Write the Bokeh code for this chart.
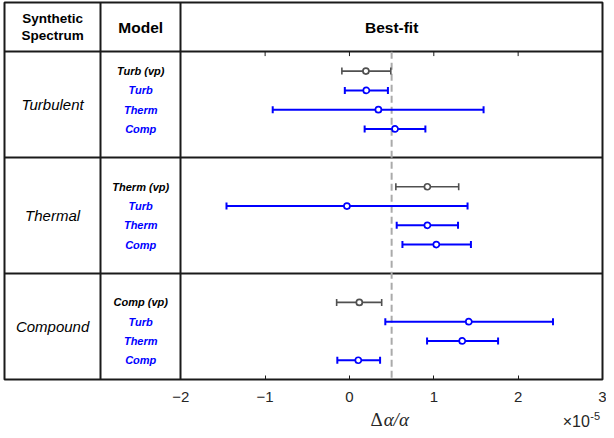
import math
from bokeh.plotting import figure
from bokeh.layouts import column
from bokeh.models import Range1d, FixedTicker
from bokeh.core.properties import value
from bokeh.embed import file_html
from bokeh.resources import INLINE

# ---- data (values in units of 1e-5) ----
spectra = ["Turbulent", "Thermal", "Compound"]
models_turb = ["Turb (vp)", "Turb", "Therm", "Comp"]
models_therm = ["Therm (vp)", "Turb", "Therm", "Comp"]
models_comp = ["Comp (vp)", "Turb", "Therm", "Comp"]
best_turb = [0.195, 0.20, 0.343, 0.54]
low_turb = [-0.09, -0.055, -0.91, 0.18]
up_turb = [0.49, 0.456, 1.59, 0.90]
best_therm = [0.924, -0.03, 0.924, 1.03]
low_therm = [0.55, -1.458, 0.56, 0.628]
up_therm = [1.295, 1.40, 1.287, 1.44]
best_comp = [0.117, 1.415, 1.337, 0.105]
low_comp = [-0.152, 0.425, 0.92, -0.144]
up_comp = [0.382, 2.413, 1.762, 0.363]
ref_value = 0.5
xticks = [-2, -1, 0, 1, 2, 3]

models = [models_turb, models_therm, models_comp]
bests = [best_turb, best_therm, best_comp]
lows = [low_turb, low_therm, low_comp]
ups = [up_turb, up_therm, up_comp]

FONT = "Liberation Sans"
GRAY = "#505050"
BLUE = "#0000ff"
LINE = "#1a1a1a"
TXT = "#262626"

X0, XSEP = -4.09, -2.95
xr = Range1d(X0, xticks[-1])
p = figure(width=606, height=405, output_backend="svg", toolbar_location=None,
           x_range=xr, y_range=Range1d(17, -2.56),
           min_border_left=4, min_border_top=2, min_border_right=4, min_border_bottom=26)
p.grid.visible = False
p.yaxis.visible = False
p.outline_line_color = LINE
p.outline_line_width = 2
p.background_fill_color = "white"
p.border_fill_color = "white"

ax = p.xaxis[0]
ax.ticker = FixedTicker(ticks=xticks)
ax.axis_line_color = None
ax.major_tick_in = 4
ax.major_tick_out = 0
ax.minor_tick_line_color = None
ax.major_tick_line_color = LINE
ax.major_label_text_font = FONT
ax.major_label_text_font_size = "15px"
ax.major_label_text_color = TXT
ax.major_label_standoff = 12

# table lines
p.hspan(y=[0, 5.5, 11.5], line_color=LINE, line_width=2)
p.vspan(x=[XSEP, xticks[0]], line_color=LINE, line_width=2)
# inner top ticks under header
inner = xticks[1:-1]
p.segment(x0=inner, y0=[0] * len(inner), x1=inner, y1=[0.22] * len(inner), line_color=LINE, line_width=1)

# reference dashed line
p.segment(x0=[ref_value], y0=[0], x1=[ref_value], y1=[17], line_color="#aaaaaa", line_width=2, line_dash="7 4")

# header
p.text(x=[(X0 + XSEP) / 2] * 2, y=[-1.73, -0.85], text=["Synthetic", "Spectrum"],
       text_font=value(FONT), text_font_style="bold", text_font_size="13.5px",
       text_align="center", text_baseline="middle", text_color="black")
p.text(x=[(XSEP + xticks[0]) / 2, (xticks[0] + xticks[-1]) / 2], y=[-1.26, -1.26], text=["Model", "Best-fit"],
       text_font=value(FONT), text_font_style="bold", text_font_size="15.5px",
       text_align="center", text_baseline="middle", text_color="black")

bounds = [0, 5.5, 11.5, 17]
for g in range(3):
    ys = [g * 6 + i + 1 for i in range(4)]
    p.text(x=[(X0 + XSEP) / 2], y=[(bounds[g] + bounds[g + 1]) / 2], text=[spectra[g]],
           text_font=value(FONT), text_font_style="italic", text_font_size="15px",
           text_align="center", text_baseline="middle", text_color="black")
    for i in range(4):
        col = GRAY if i == 0 else BLUE
        lw = 1.6 if i == 0 else 2
        y = ys[i]
        p.text(x=[(XSEP + xticks[0]) / 2], y=[y], text=[models[g][i]],
               text_font=value(FONT), text_font_style="bold italic", text_font_size="11px",
               text_align="center", text_baseline="middle", text_color="black" if i == 0 else BLUE)
        p.segment(x0=[lows[g][i]], y0=[y], x1=[ups[g][i]], y1=[y], line_color=col, line_width=lw)
        p.scatter(x=[lows[g][i], ups[g][i]], y=[y, y], marker="dash", angle=math.pi / 2, size=7,
                  line_color=col, line_width=lw)
        p.scatter(x=[bests[g][i]], y=[y], marker="circle", size=6, line_color=col, line_width=1.7,
                  fill_color="white")

# axis label strip
p2 = figure(width=606, height=25, output_backend="svg", toolbar_location=None,
            x_range=xr, y_range=Range1d(0, 25),
            min_border_left=4, min_border_top=0, min_border_right=4, min_border_bottom=0)
p2.axis.visible = False
p2.grid.visible = False
p2.outline_line_color = None
p2.text(x=[ref_value], y=[11], text=["Δ"], text_font=value("Liberation Serif"),
        text_font_size="19px", text_align="right", text_baseline="middle", text_color=TXT, x_offset=-9)
p2.text(x=[ref_value], y=[11], text=["α/α"], text_font=value("Liberation Serif"), text_font_style="italic",
        text_font_size="19px", text_align="left", text_baseline="middle", text_color=TXT, x_offset=-8)
p2.text(x=[2.85], y=[9], text=["×10"], text_font=value(FONT), text_font_size="16px",
        text_align="right", text_baseline="middle", text_color=TXT)
p2.text(x=[2.855], y=[14.5], text=["-5"], text_font=value(FONT), text_font_size="11px",
        text_align="left", text_baseline="middle", text_color=TXT)

layout = column(p, p2, spacing=0)
open("out.html", "w").write(file_html(layout, INLINE))
